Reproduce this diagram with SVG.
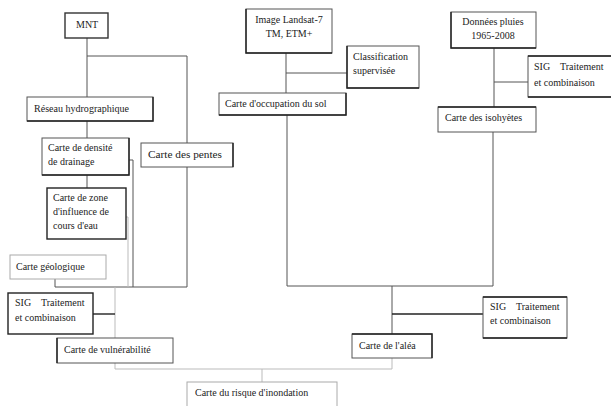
<svg xmlns="http://www.w3.org/2000/svg" width="611" height="406" viewBox="0 0 611 406">
<style>
.b{fill:#fff;stroke:#555;stroke-width:1}
.s{fill:none;stroke:#222;stroke-width:1.4}
.t{font-size:10px;fill:#222}
.c{fill:none;stroke:#555;stroke-width:1}
.f{fill:none;stroke:#bbb;stroke-width:1}
</style>
<rect width="611" height="406" fill="#fff"/>
<g id="connectors">
<path class="c" d="M87 38V97M87 56H187V143M87 121V138M87 175V188"/>
<path class="c" d="M129 160H133V287M187 167V287H55V279"/>
<path class="f" d="M126 217H128V287"/>
<path class="f" d="M115 287V369H392V358M262 369V382"/>
<path class="s" d="M93 314H115"/>
<path class="c" d="M286 53V93M286 73H347M287 115V286H493V132M494 48V107M494 82H528"/>
<path class="c" d="M392 286V334"/>
<path class="s" d="M392 314H483"/>
</g>
<g font-family="Liberation Serif, Times New Roman, DejaVu Serif, serif">
<g id="mnt"><rect class="b" x="65" y="13" width="43" height="25" style="stroke:#333;stroke-width:1.4"/><text class="t" x="76" y="28">MNT</text></g>
<g id="reseau"><rect class="b" x="27" y="97" width="126" height="24"/><path class="s" d="M27 121H153V97"/><text class="t" x="34" y="112" textLength="95" lengthAdjust="spacingAndGlyphs">Réseau hydrographique</text></g>
<g id="densite"><rect class="b" x="42" y="138" width="87" height="37"/><path class="s" d="M42 175H129V138"/><text class="t" x="48" y="151">Carte de densité</text><text class="t" x="48" y="165">de drainage</text></g>
<g id="pentes"><rect class="b" x="141" y="143" width="92" height="24"/><path class="s" d="M233 143V167"/><text class="t" x="148" y="158" textLength="74" lengthAdjust="spacingAndGlyphs">Carte des pentes</text></g>
<g id="zone"><rect class="b" x="47" y="188" width="79" height="51" style="stroke:#222;stroke-width:1.4"/><text class="t" x="53" y="201">Carte de zone</text><text class="t" x="53" y="215">d'influence de</text><text class="t" x="53" y="229">cours d'eau</text></g>
<g id="geologique"><rect class="b" x="10" y="255" width="96" height="24" style="stroke:#aaa"/><text class="t" x="16" y="270">Carte géologique</text></g>
<g id="sig1"><rect class="b" x="8" y="293" width="85" height="41" style="stroke:#222;stroke-width:1.4"/><text class="t" x="15" y="306" xml:space="preserve">SIG    Traitement</text><text class="t" x="15" y="321">et combinaison</text></g>
<g id="vulnerabilite"><rect class="b" x="57" y="338" width="116" height="25"/><path class="s" d="M57 338V363"/><text class="t" x="64" y="353">Carte de vulnérabilité</text></g>
<g id="landsat"><rect class="b" x="246" y="9" width="86" height="44"/><path class="s" d="M246 9V53H332"/><text class="t" x="289" y="23" text-anchor="middle">Image Landsat-7</text><text class="t" x="289" y="37" text-anchor="middle">TM, ETM+</text></g>
<g id="classification"><rect class="b" x="347" y="46" width="72" height="42"/><path class="s" d="M347 46V88H419"/><text class="t" x="353" y="60">Classification</text><text class="t" x="353" y="74">supervisée</text></g>
<g id="occupation"><rect class="b" x="219" y="93" width="127" height="22"/><path class="s" d="M219 115H346V93"/><text class="t" x="225" y="107">Carte d'occupation du sol</text></g>
<g id="pluies"><rect class="b" x="451" y="12" width="85" height="36"/><path class="s" d="M451 12V48H536"/><text class="t" x="493" y="25" text-anchor="middle">Données pluies</text><text class="t" x="493" y="39" text-anchor="middle">1965-2008</text></g>
<g id="sig2"><rect class="b" x="528" y="56" width="90" height="41"/><path class="s" d="M528 56H611M528 97H611"/><text class="t" x="534" y="70" xml:space="preserve">SIG    Traitement</text><text class="t" x="534" y="86">et combinaison</text></g>
<g id="isohyetes"><rect class="b" x="438" y="107" width="98" height="25"/><path class="s" d="M438 107H536"/><text class="t" x="445" y="121">Carte des isohyètes</text></g>
<g id="sig3"><rect class="b" x="483" y="297" width="84" height="41"/><path class="s" d="M483 297H567M483 338H567"/><text class="t" x="490" y="310" xml:space="preserve">SIG    Traitement</text><text class="t" x="490" y="324">et combinaison</text></g>
<g id="alea"><rect class="b" x="352" y="334" width="80" height="24"/><path class="s" d="M352 334H432V358"/><text class="t" x="359" y="349">Carte de l'aléa</text></g>
<g id="risque"><rect class="b" x="187" y="382" width="150" height="30" style="stroke:#aaa"/><text class="t" x="195" y="396">Carte du risque d'inondation</text></g>
</g>
</svg>
